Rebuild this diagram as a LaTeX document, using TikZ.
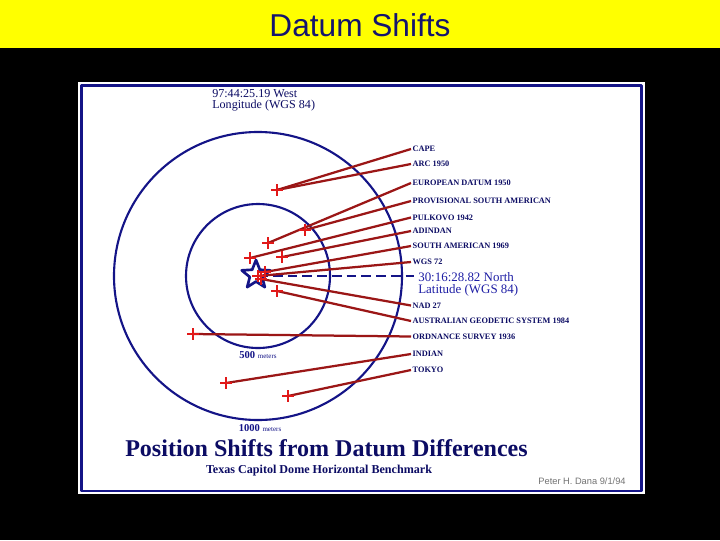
\documentclass[tikz,border=0pt]{standalone}
\usepackage{fontspec}
\setmainfont{Liberation Serif}
\newfontfamily\arialfont{Liberation Sans}
\usetikzlibrary{shapes.geometric}
\definecolor{banner}{RGB}{255,255,0}
\definecolor{titleblue}{RGB}{20,20,110}
\definecolor{circblue}{RGB}{20,20,135}
\definecolor{navytext}{RGB}{12,12,100}
\definecolor{latblue}{RGB}{30,30,165}
\definecolor{shiftred}{RGB}{155,22,22}
\definecolor{plusred}{RGB}{225,25,25}
\begin{document}
\begin{tikzpicture}[
        x=0.025cm,
        y=-0.025cm,
        line join=round,
        % 样式
        ring/.style={draw=circblue,line width=1.5pt},
        shiftline/.style={draw=shiftred,line width=1.6pt},
        plusmark/.style={draw=plusred,line width=1.5pt},
        datum/.style={anchor=west,inner sep=1pt,text=navytext,
            font=\bfseries\fontsize{5.9}{6}\selectfont},
        radius label/.style={inner sep=0pt,text=circblue},
    ]
    \useasboundingbox (0,0) rectangle (720,540);

    % 背景与标题栏
    \fill[black] (0,0) rectangle (720,540);
    \fill[banner] (0,0) rectangle (720,48);
    \node (title) at (360,25) {\arialfont\fontsize{22.5}{24}\selectfont\color{titleblue}Datum Shifts};

    % 白色图框
    \fill[white] (78,82) rectangle (645,494);
    \draw[circblue,line width=1.8pt] (81.5,85.5) rectangle (641.5,491);

    % 中心点与两个圆
    \coordinate (O) at (258,276);
    \draw[ring] (O) circle[radius=72];
    \draw[ring] (O) circle[radius=144];
    \node[radius label] (r500) at (258,355) {\bfseries\fontsize{7.5}{8}\selectfont 500 \fontsize{5}{6}\selectfont\mdseries meters};
    \node[radius label] (r1000) at (260,428) {\bfseries\fontsize{7.5}{8}\selectfont 1000 \fontsize{5}{6}\selectfont\mdseries meters};

    % 经纬度标注
    \node[anchor=west,inner sep=0pt,align=left,text=navytext,
        font=\fontsize{8.6}{7.6}\selectfont] (lon) at (212,100)
        {97:44:25.19 West\\Longitude (WGS 84)};
    \coordinate (dashend) at (414,276);
    \node[anchor=west,inner sep=0pt,align=left,text=latblue,
        font=\fontsize{9.2}{9}\selectfont] (lat) at (418,284.5)
        {30:16:28.82 North\\Latitude (WGS 84)};
    \draw[circblue,line width=0.8pt,dash pattern=on 7pt off 3.5pt] (O) -- (dashend);

    % 五角星
    \node[star,star points=5,star point ratio=2.3,minimum size=0.75cm,
        inner sep=0pt,draw=circblue,line width=1.9pt] (wgs) at (256,275) {};

    % 各基准点位置
    \coordinate (cp) at (277,190);
    \coordinate (ed) at (268,243);
    \coordinate (ps) at (305,230);
    \coordinate (pk) at (250,258);
    \coordinate (ad) at (282,257);
    \coordinate (sa) at (265,272);
    \coordinate (wg) at (258,276);
    \coordinate (nd) at (261,279);
    \coordinate (ag) at (277,291);
    \coordinate (os) at (193,334);
    \coordinate (in) at (226,383);
    \coordinate (tk) at (288,396);

    % 基准名称
    \node[datum] (cape) at (411,149) {CAPE};
    \node[datum] (arc) at (411,164) {ARC 1950};
    \node[datum] (eur) at (411,183) {EUROPEAN DATUM 1950};
    \node[datum] (psa) at (411,201) {PROVISIONAL SOUTH AMERICAN};
    \node[datum] (pul) at (411,217.5) {PULKOVO 1942};
    \node[datum] (adi) at (411,231) {ADINDAN};
    \node[datum] (sam) at (411,246) {SOUTH AMERICAN 1969};
    \node[datum] (w72) at (411,262) {WGS 72};
    \node[datum] (n27) at (411,305.5) {NAD 27};
    \node[datum] (ags) at (411,321) {AUSTRALIAN GEODETIC SYSTEM 1984};
    \node[datum] (osv) at (411,336.5) {ORDNANCE SURVEY 1936};
    \node[datum] (ind) at (411,354) {INDIAN};
    \node[datum] (tok) at (411,370) {TOKYO};

    % 连线
    \draw[shiftline] (cp) -- (cape.west);
    \draw[shiftline] (cp) -- (arc.west);
    \draw[shiftline] (ed) -- (eur.west);
    \draw[shiftline] (ps) -- (psa.west);
    \draw[shiftline] (pk) -- (pul.west);
    \draw[shiftline] (ad) -- (adi.west);
    \draw[shiftline] (sa) -- (sam.west);
    \draw[shiftline] (wg) -- (w72.west);
    \draw[shiftline] (nd) -- (n27.west);
    \draw[shiftline] (ag) -- (ags.west);
    \draw[shiftline] (os) -- (osv.west);
    \draw[shiftline] (in) -- (ind.west);
    \draw[shiftline] (tk) -- (tok.west);

    % 十字标记
    \foreach \p in {cp,ed,ps,pk,ad,sa,wg,nd,ag,os,in,tk}
        \draw[plusmark] (\p) ++(-6,0) -- ++(12,0) ++(-6,-6) -- ++(0,12);

    % 图题
    \node[text=navytext,font=\bfseries\fontsize{17.1}{18}\selectfont] (head) at (326.5,448)
        {Position Shifts from Datum Differences};
    \node[text=navytext,font=\bfseries\fontsize{8.6}{9}\selectfont] (sub) at (319,470.5)
        {Texas Capitol Dome Horizontal Benchmark};
    \node[text=black!55,font=\arialfont\fontsize{6.6}{7}\selectfont] (credit) at (582,481)
        {Peter H. Dana 9/1/94};
\end{tikzpicture}
\end{document}
